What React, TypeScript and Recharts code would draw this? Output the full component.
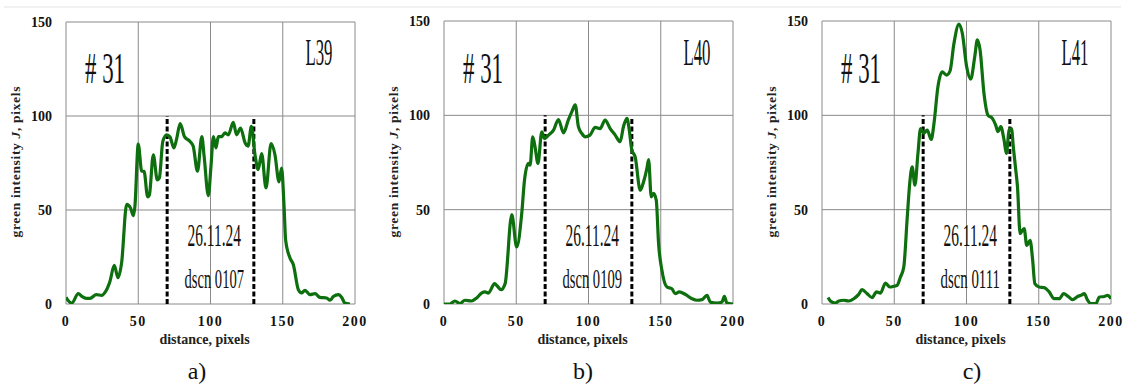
import React from "react";
import { LineChart, Line, XAxis, YAxis, CartesianGrid, ReferenceLine } from "recharts";

// ---------- data ----------
const xTicks = [0, 50, 100, 150, 200];
const yTicks = [0, 50, 100, 150];
const markerX = [70, 130];
const markerTop = [100, 99];

const xA = [0, 1, 4, 8.5, 11, 14, 16.6, 21, 24.7, 27, 30.4, 33.4, 36, 38.5, 42, 44.7, 46.6, 47.7, 50, 52.4, 54, 56.5, 57.7, 60.4, 63.2, 64.6, 67, 69.7, 72, 74.7, 76.6, 79, 82, 85.8, 88, 91, 94, 95.6, 98.5, 100.3, 102, 103.8, 105.4, 107.7, 110, 112.3, 115.8, 118, 120.8, 124, 126, 128.3, 130.8, 133, 135.4, 138.4, 141.9, 144.6, 147.4, 149.2, 150.9, 152, 155, 157.3, 160.8, 163, 165.4, 168.9, 172.3, 175.8, 180.4, 182.7, 185, 188.5, 190.8, 193, 196.5];
const yA = [3.5, 2.3, 0.5, 5.5, 4, 3, 3, 5, 4.6, 6.2, 12, 20.5, 14, 22, 53, 51, 47, 52, 85, 70.6, 70.6, 57, 58, 79.4, 66, 67, 86.5, 90, 88.8, 83, 88, 96, 89, 86.5, 84, 70.6, 89, 78.5, 57.6, 73, 89, 83, 89, 89, 91, 90, 96.6, 90, 93.6, 85.6, 84, 94.5, 79.4, 71.5, 80, 61.7, 85.3, 79.4, 65, 72.3, 52, 34, 24.5, 21, 7.6, 5.9, 7.3, 5, 5.5, 3.5, 3.2, 2, 4, 5, 3.5, 0.5, 0];

const xB = [0, 4, 7.6, 11, 14.5, 19, 22.6, 26, 28.4, 30.7, 35, 37, 39.5, 42.3, 46.9, 50.3, 53.8, 55.7, 58.4, 59.6, 61.4, 63, 65, 67.7, 69.5, 72.3, 75.8, 79.2, 82.7, 86, 88.5, 90.8, 93, 95.4, 97.7, 101, 104.6, 108, 111.5, 115, 118.5, 121.9, 124.2, 126.6, 128.2, 130, 132.3, 135.8, 138.1, 140.4, 141.6, 143.4, 145, 146.9, 148.5, 150.8, 154.3, 157.7, 160, 162.8, 167, 171.6, 175, 178.5, 182, 184.3, 189, 192.4, 194, 195.8, 200];
const yB = [0, 0, 1.6, 0.2, 2, 1.6, 3.2, 5.8, 6.4, 5.8, 10.8, 9.4, 7.6, 10.8, 47.4, 30.2, 48, 65.6, 74.5, 73.6, 88.6, 83.3, 74.5, 91.3, 87.7, 89.5, 92.2, 97.8, 90.7, 97.5, 102, 105.6, 94, 90.4, 88.6, 89.5, 93.6, 93, 97.5, 93, 89.5, 86, 94, 98.4, 92.2, 81.5, 78, 60.3, 64.7, 71.8, 76.6, 56.8, 58.6, 55, 32, 17.9, 9, 8.1, 5.5, 6.4, 5.1, 2.8, 2, 2.3, 4.6, 1, 0.5, 1, 4, 0.5, 0];

const xC = [4.2, 5.8, 9.2, 11.6, 15, 18.5, 22, 25.4, 27.7, 31.2, 34.7, 37.7, 40.5, 43.9, 46.9, 49.7, 52, 54.3, 56.6, 59, 60.8, 62.4, 64.3, 66.4, 68.2, 70.5, 72.8, 75.6, 77.5, 80.2, 83.2, 86.2, 88.6, 91.3, 94.8, 97.1, 100.1, 102.9, 105.7, 107.5, 109.4, 112.1, 114.9, 117.9, 120.2, 121.8, 123.7, 126, 127.6, 129.5, 131.1, 132.5, 134.1, 135.3, 137.1, 138.7, 139.9, 141.7, 144, 145.7, 147.3, 150.3, 153.8, 157.2, 160.7, 164.2, 167.2, 170.4, 173.4, 176.9, 179.2, 181.5, 183.8, 186.1, 189.6, 191.9, 195.4, 197.7, 200];
const yC = [3.4, 1.6, 0.5, 1.6, 2, 1.6, 2.8, 5.1, 7.6, 5.5, 3.4, 6.4, 5.8, 11.1, 9, 9.4, 9.9, 14.3, 19.6, 46, 64.7, 72.7, 63, 79.8, 93, 90.4, 92.2, 87.2, 95.7, 115, 123, 121.3, 123.5, 138, 148.4, 143.5, 125.8, 119.2, 131, 140, 134.6, 111.6, 100, 98.4, 94.8, 91.3, 94, 86.9, 79.8, 92.2, 93, 82.4, 71, 62, 37.3, 39, 40, 31, 33.8, 24, 10.8, 9, 8.7, 6.4, 2.8, 2.8, 5.5, 4, 2.3, 4, 4.6, 5.5, 2, 0.2, 0.2, 3.7, 4, 4.6, 2.8];

const sampleLabels = ["L39", "L40", "L41"];
const dateLabel = "26.11.24";
const fileLabels = ["dscn 0107", "dscn 0109", "dscn 0111"];
const sampleNo = "# 31";
const captions = ["a)", "b)", "c)"];
const xTitle = "distance, pixels";

// ---------- layout ----------
const PLOT_W = 289;
const YAXIS_W = 66;
const RIGHT_M = 18;
const CHART_H = 385;
const panelPlotLeft = [66, 444, 822];
const panelTop = [22, 21, 21];
const captionX = [197, 583, 972];

const SERIF = '"Liberation Serif", "Times New Roman", serif';
const GREEN = "#0d6f0d";
const GRID = "#8a8a8a";

const series = [
  xA.map((x, i) => ({ x, y: yA[i] })),
  xB.map((x, i) => ({ x, y: yB[i] })),
  xC.map((x, i) => ({ x, y: yC[i] })),
];

const tickStyle = { fontFamily: SERIF, fontWeight: 700, fontSize: 14, fill: "#111" };

function Panel({ idx }: { idx: number }) {
  const left = panelPlotLeft[idx] - YAXIS_W;
  const top = panelTop[idx];
  const xAxisH = 30;
  const bottom = CHART_H - 304 - xAxisH;
  return (
    <div style={{ position: "absolute", left, top: 0 }}>
      <LineChart
        width={YAXIS_W + PLOT_W + RIGHT_M}
        height={CHART_H}
        data={series[idx]}
        margin={{ top, right: RIGHT_M, left: 0, bottom }}
      >
        <CartesianGrid stroke={GRID} strokeWidth={1} />
        <XAxis
          type="number"
          dataKey="x"
          domain={[0, 200]}
          ticks={xTicks}
          allowDataOverflow
          axisLine={false}
          tickLine={false}
          tickSize={6}
          tickMargin={6}
          height={xAxisH}
          interval={0}
          tick={{ ...tickStyle, letterSpacing: 1.5 }}
        />
        <YAxis
          type="number"
          domain={[0, 150]}
          ticks={yTicks}
          allowDataOverflow
          axisLine={false}
          tickLine={false}
          tickSize={6}
          tickMargin={8}
          width={YAXIS_W}
          interval={0}
          tick={tickStyle}
        />
        {markerX.map((mx, i) => (
          <ReferenceLine
            key={i}
            segment={[{ x: mx, y: 0 }, { x: mx, y: markerTop[i] }]}
            stroke="#000"
            strokeWidth={3}
            strokeDasharray="5 2.5"
          />
        ))}
        <Line
          type="monotone"
          dataKey="y"
          stroke={GREEN}
          strokeWidth={3.2}
          dot={false}
          activeDot={false}
          isAnimationActive={false}
        />
      </LineChart>
    </div>
  );
}

function Annotations() {
  return (
    <svg
      width={1125}
      height={385}
      style={{ position: "absolute", left: 0, top: 0, pointerEvents: "none" }}
    >
      <line x1={4} y1={7} x2={1121} y2={7} stroke="#ececec" strokeWidth={1.5} />
      {panelPlotLeft.map((pl, i) => (
        <g key={i} fontFamily={SERIF} fill="#111">
          <text
            transform={`translate(${pl - 46.5},162) rotate(-90)`}
            textAnchor="middle"
            fontSize={13.5}
            fontWeight={700}
            fill="#222"
            textLength={151}
            lengthAdjust="spacing"
          >
            green  intensity  <tspan fontStyle="italic">J</tspan>, pixels
          </text>
          <text x={pl + 19} y={83} fontSize={44} textLength={40} lengthAdjust="spacingAndGlyphs">
            {sampleNo}
          </text>
          <text x={pl + 239.5} y={64.5} fontSize={37} textLength={27} lengthAdjust="spacingAndGlyphs">
            {sampleLabels[i]}
          </text>
          <text x={pl + 121.5} y={245.5} fontSize={32} textLength={53.5} lengthAdjust="spacingAndGlyphs">
            {dateLabel}
          </text>
          <text x={pl + 118.5} y={288} fontSize={27} textLength={59.5} lengthAdjust="spacingAndGlyphs">
            {fileLabels[i]}
          </text>
          <text x={pl + 138.5} y={344} fontSize={14} fontWeight={700} textAnchor="middle" fill="#222">
            {xTitle}
          </text>
          <text x={captionX[i]} y={378.5} fontSize={24} textAnchor="middle">
            {captions[i]}
          </text>
        </g>
      ))}
    </svg>
  );
}

export default function App() {
  return (
    <div
      style={{
        position: "absolute",
        left: 0,
        top: 0,
        width: 1125,
        height: 385,
        background: "#fff",
        overflow: "hidden",
      }}
    >
      {[0, 1, 2].map((i) => (
        <Panel key={i} idx={i} />
      ))}
      <Annotations />
    </div>
  );
}
